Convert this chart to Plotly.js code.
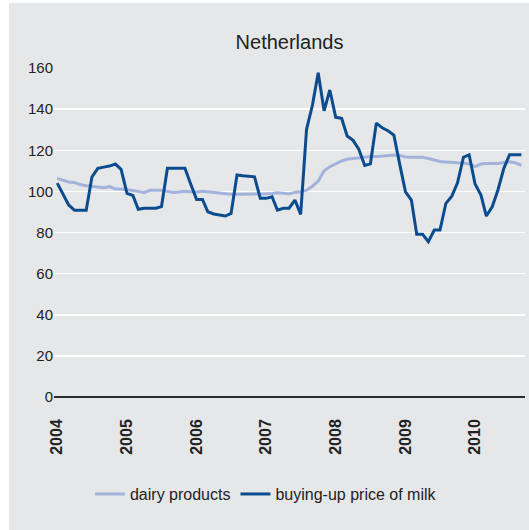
<!DOCTYPE html>
<html>
<head>
<meta charset="utf-8">
<script src="https://cdn.plot.ly/plotly-3.0.1.min.js"></script>
<style>
  html, body { margin: 0; padding: 0; background: #ffffff; }
  #chart { width: 529px; height: 530px; }
</style>
</head>
<body>
<div id="chart"></div>
<script>
// Monthly index values, January 2004 to September 2010
const startYear = 2004;
const years = ['2004', '2005', '2006', '2007', '2008', '2009', '2010'];

const dairyProducts = [
  106.3, 105.6, 104.6, 104.3, 103.3, 102.7, 102.4, 102.1, 101.8, 102.3, 101.2, 101.1,
  100.9, 100.4, 100.0, 99.4, 100.5, 100.5, 100.5, 100.0, 99.5, 99.7, 100.0, 99.8,
  99.7, 100.0, 99.7, 99.4, 99.0, 98.6, 98.6, 98.6, 98.6, 98.6, 98.6, 98.6,
  98.8, 99.0, 99.3, 99.1, 98.7, 99.5, 99.8, 100.6, 102.5, 105.0, 110.0, 112.0,
  113.4, 114.8, 115.6, 116.0, 116.1, 116.6, 116.9, 116.9, 117.1, 117.3, 117.7, 117.4,
  116.7, 116.6, 116.6, 116.6, 116.0, 115.3, 114.5, 114.3, 114.0, 113.9, 113.8, 113.3,
  112.0, 113.3, 113.6, 113.6, 113.6, 114.0, 114.4, 113.9, 112.6
];

const milkPrice = [
  104.0, 98.7, 93.4, 90.8, 90.8, 90.8, 107.0, 111.2, 111.8, 112.3, 113.3, 110.7,
  99.0, 98.0, 91.3, 91.8, 91.8, 91.8, 92.6, 111.2, 111.2, 111.2, 111.2, 103.6,
  96.1, 96.1, 90.1, 89.0, 88.5, 88.0, 89.3, 108.0, 107.6, 107.5, 107.1, 96.6,
  96.6, 97.4, 90.9, 91.8, 91.8, 95.8, 88.8, 130.2, 142.0, 157.7, 139.2, 149.3,
  136.0, 135.5, 126.9, 124.8, 120.5, 112.6, 113.4, 133.2, 130.9, 129.5, 127.4, 113.5,
  99.8, 95.8, 79.1, 79.1, 75.5, 81.2, 81.2, 94.2, 97.7, 104.2, 116.6, 117.8,
  103.6, 98.2, 88.0, 92.5, 100.7, 111.2, 117.8, 117.8, 117.8
];

// Month stamps for the x axis (first day of each month)
const months = dairyProducts.map((_, i) => {
  const y = startYear + Math.floor(i / 12);
  const m = (i % 12) + 1;
  return y + '-' + String(m).padStart(2, '0') + '-01';
});
const yearTicks = years.map(y => y + '-01-01');

const FONT = 'Liberation Sans, Arial, Helvetica, sans-serif';
const PANEL = '#e6e7e9';

const traces = [
  {
    x: months, y: dairyProducts, name: 'dairy products',
    type: 'scatter', mode: 'lines',
    line: { color: '#a3b3db', width: 3 },
    hoverinfo: 'skip'
  },
  {
    x: months, y: milkPrice, name: 'buying-up price of milk',
    type: 'scatter', mode: 'lines',
    line: { color: '#0b4c8f', width: 3 },
    hoverinfo: 'skip'
  }
];

const layout = {
  width: 529, height: 530,
  margin: { l: 54, r: 4, t: 68, b: 133, autoexpand: false },
  paper_bgcolor: '#ffffff',
  plot_bgcolor: 'rgba(0,0,0,0)',
  font: { family: FONT, color: '#222222' },
  title: {
    text: 'Netherlands',
    font: { family: FONT, size: 20, color: '#222222' },
    xref: 'paper', x: 0.5, xanchor: 'center',
    yref: 'container', y: 1 - 42 / 530, yanchor: 'middle'
  },
  xaxis: {
    type: 'date',
    range: ['2003-12-15', '2010-09-20'],
    tickmode: 'array', tickvals: yearTicks, ticktext: years,
    tickangle: -90,
    tickfont: { family: FONT, size: 16, color: '#222222', weight: 'bold' },
    ticks: '', ticklabelstandoff: 18,
    showgrid: false, zeroline: false, showline: false,
    fixedrange: true
  },
  yaxis: {
    range: [0, 160],
    tickmode: 'array', tickvals: [0, 20, 40, 60, 80, 100, 120, 140, 160],
    tickfont: { family: FONT, size: 15, color: '#222222' },
    ticks: '',
    showgrid: true, gridcolor: '#ffffff', gridwidth: 1.5,
    zeroline: true, zerolinecolor: '#2a2a2a', zerolinewidth: 1.5,
    showline: false, fixedrange: true
  },
  showlegend: true,
  legend: {
    orientation: 'h',
    x: 0.45, xanchor: 'center',
    y: -0.295, yanchor: 'middle',
    font: { family: FONT, size: 16, color: '#222222' },
    bgcolor: 'rgba(0,0,0,0)'
  },
  shapes: [
    {
      type: 'rect', layer: 'below',
      xref: 'paper', yref: 'paper',
      x0: -45 / 471, x1: 1 + 4 / 471,
      y0: -133 / 329, y1: 394 / 329,
      fillcolor: PANEL, line: { width: 0 }
    }
  ]
};

Plotly.newPlot('chart', traces, layout, { displayModeBar: false, staticPlot: true });
</script>
</body>
</html>
